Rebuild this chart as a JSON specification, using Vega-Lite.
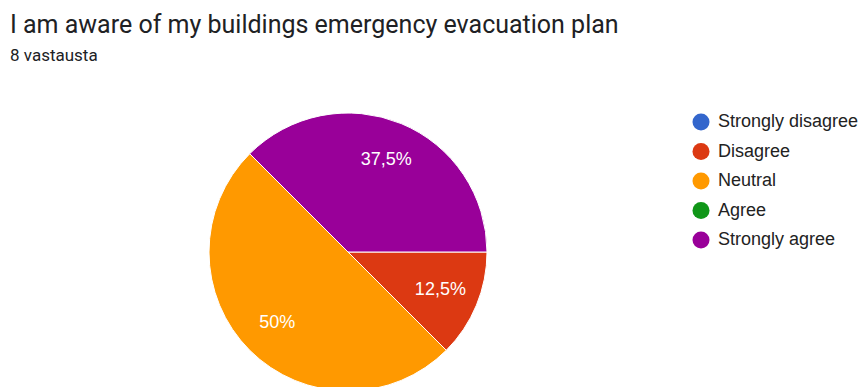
{
  "$schema": "https://vega.github.io/schema/vega-lite/v6.json",
  "width": 696,
  "height": 270,
  "autosize": {"type": "none"},
  "padding": {"left": 0, "top": 117, "right": 168, "bottom": 0},
  "background": "white",
  "title": {
    "text": "I am aware of my buildings emergency evacuation plan",
    "subtitle": "8 vastausta",
    "anchor": "start",
    "frame": "group",
    "font": "Roboto",
    "fontSize": 25,
    "fontWeight": "normal",
    "color": "#202124",
    "subtitleFont": "Roboto",
    "subtitleFontSize": 17,
    "subtitleColor": "#202124",
    "subtitlePadding": 10,
    "offset": 47,
    "dx": 10
  },
  "data": {
    "values": [
      {"answer": "Strongly disagree", "count": 0, "idx": 1, "label": ""},
      {"answer": "Disagree", "count": 1, "idx": 2, "label": "12,5%"},
      {"answer": "Neutral", "count": 4, "idx": 3, "label": "50%"},
      {"answer": "Agree", "count": 0, "idx": 4, "label": ""},
      {"answer": "Strongly agree", "count": 3, "idx": 5, "label": "37,5%"}
    ]
  },
  "encoding": {
    "theta": {"field": "count", "type": "quantitative", "stack": true, "scale": {"range": [1.5707963, 7.8539816]}},
    "order": {"field": "idx", "type": "quantitative"},
    "color": {
      "field": "answer",
      "type": "nominal",
      "scale": {
        "domain": ["Strongly disagree", "Disagree", "Neutral", "Agree", "Strongly agree"],
        "range": ["#3366cc", "#dc3912", "#ff9900", "#109618", "#990099"]
      },
      "legend": {
        "title": null,
        "orient": "none",
        "legendX": 692,
        "legendY": -4,
        "symbolType": "circle",
        "symbolSize": 290,
        "symbolStrokeWidth": 0,
        "labelFont": "Liberation Sans",
        "labelFontSize": 18,
        "labelColor": "#222222",
        "labelOffset": 8,
        "rowPadding": 11.5,
        "labelLimit": 300
      }
    }
  },
  "layer": [
    {"mark": {"type": "arc", "outerRadius": 139, "stroke": "white", "strokeWidth": 1}},
    {
      "transform": [{"filter": "datum.count > 0"}],
      "mark": {"type": "text", "radius": 100, "font": "Liberation Sans", "fontSize": 18, "fill": "white"},
      "encoding": {"text": {"field": "label"}}
    }
  ],
  "config": {"view": {"stroke": null}}
}
